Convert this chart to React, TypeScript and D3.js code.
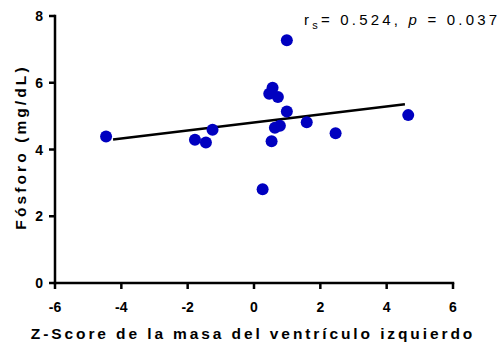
import React from "react";
import * as d3 from "d3";

const zScores = [-4.46, -1.78, -1.45, -1.25, 0.26, 0.53, 0.46, 0.56, 0.63, 0.72, 0.78, 0.99, 0.99, 1.59, 2.46, 4.65];
const phosphorus = [4.39, 4.29, 4.21, 4.59, 2.81, 4.25, 5.67, 5.85, 4.65, 5.57, 4.71, 5.14, 7.27, 4.82, 4.49, 5.03];
const fitX = [-4.25, 4.55];
const fitSlope = 0.12;
const fitIntercept = 4.81;
const xTicks = [-6, -4, -2, 0, 2, 4, 6];
const yTicks = [0, 2, 4, 6, 8];

export default function App() {
  const W = 504, H = 349;
  const x = d3.scaleLinear().domain([-6, 6]).range([55, 453]);
  const y = d3.scaleLinear().domain([0, 8]).range([283, 16]);
  const line = d3.line<number>().x(d => x(d)).y(d => y(fitIntercept + fitSlope * d));
  const font = "Arial, 'Liberation Sans', Helvetica, sans-serif";
  return (
    <svg width={W} height={H} style={{ position: "absolute", left: 0, top: 0 }} fontFamily={font}>
      <rect width={W} height={H} fill="#fff" />
      {/* axes */}
      <line x1={x(-6)} x2={x(6)} y1={y(0)} y2={y(0)} stroke="#000" strokeWidth={2.5} strokeLinecap="square" />
      <line x1={x(-6)} x2={x(-6)} y1={y(0)} y2={y(8)} stroke="#000" strokeWidth={2.5} strokeLinecap="square" />
      {xTicks.map(t => (
        <g key={"x" + t}>
          <line x1={x(t)} x2={x(t)} y1={y(0)} y2={y(0) + 6} stroke="#000" strokeWidth={2.5} />
          <text x={x(t)} y={312} textAnchor="middle" fontSize={14} fontWeight="bold">{t}</text>
        </g>
      ))}
      {yTicks.map(t => (
        <g key={"y" + t}>
          <line x1={x(-6) - 6} x2={x(-6)} y1={y(t)} y2={y(t)} stroke="#000" strokeWidth={2.5} />
          <text x={43} y={y(t) + 5} textAnchor="end" fontSize={14} fontWeight="bold">{t}</text>
        </g>
      ))}
      {/* fit line */}
      <path d={line(fitX) || ""} fill="none" stroke="#000" strokeWidth={2.5} />
      {/* points */}
      {zScores.map((v, i) => (
        <circle key={i} cx={x(v)} cy={y(phosphorus[i])} r={6} fill="#0000c0" />
      ))}
      {/* annotation */}
      <text x={304} y={25} fontSize={15} letterSpacing={3.2} fill="#000">
        r<tspan fontSize={11} dy={4}>s</tspan><tspan dy={-4}>= 0.524, </tspan><tspan fontStyle="italic">p</tspan><tspan> = 0.037</tspan>
      </text>
      {/* titles */}
      <text x={253} y={339} textAnchor="middle" fontSize={15.5} fontWeight="bold" letterSpacing={2.9}>Z-Score de la masa del ventrículo izquierdo</text>
      <text transform="translate(26,147) rotate(-90)" textAnchor="middle" fontSize={15.5} fontWeight="bold" letterSpacing={3.1}>Fósforo (mg/dL)</text>
    </svg>
  );
}
